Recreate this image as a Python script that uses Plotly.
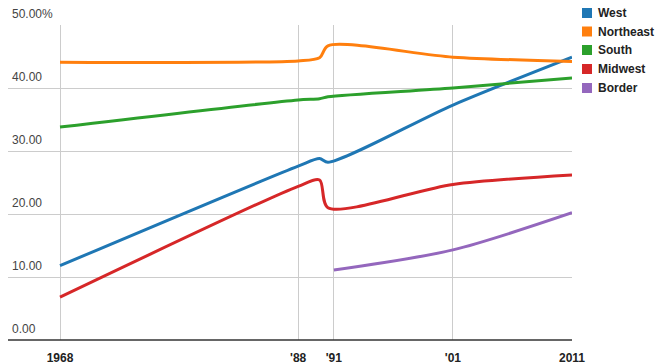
import plotly.graph_objects as go

# ---- data ----
years_main = [1968, 1988, 1989.8, 1990.5, 2001, 2011]
west = [11.8, 27.6, 28.8, 28.2, 37.3, 44.9]
northeast = [44.1, 44.3, 44.8, 46.7, 44.9, 44.2]
south = [33.8, 38.1, 38.3, 38.6, 40.0, 41.6]
midwest = [6.8, 24.4, 25.4, 21.0, 24.7, 26.2]
years_border = [1991, 2001, 2011]
border = [11.1, 14.3, 20.2]

series_names = ["West", "Northeast", "South", "Midwest", "Border"]
colors = ["#1f77b4", "#ff7f0e", "#2ca02c", "#d62728", "#9467bd"]

x_tick_vals = [1968, 1988, 1991, 2001, 2011]
x_tick_text = ["1968", "'88", "'91", "'01", "2011"]
y_tick_vals = [0, 10, 20, 30, 40, 50]
y_tick_text = ["0.00", "10.00", "20.00", "30.00", "40.00", "50.00%"]

W, H = 666, 364
L, R, T, B = 8, 572, 25, 340  # plot area pixel bounds

fig = go.Figure()
data = [(years_main, west), (years_main, northeast), (years_main, south),
        (years_main, midwest), (years_border, border)]
for (xs, ys), name, c in zip(data, series_names, colors):
    fig.add_trace(go.Scatter(x=xs, y=ys, name=name, mode="lines",
                             line=dict(color=c, width=3, shape="spline", smoothing=0.8),
                             showlegend=False, hoverinfo="x+y+name"))

px_per_year = (R - 60) / (2011 - 1968)
x_start = 1968 - (60 - L) / px_per_year

def pxx(p):
    return (p - L) / (R - L)

def pxy(p):
    return (B - p) / (B - T)

annotations = []
for v, t in zip(y_tick_vals, y_tick_text):
    annotations.append(dict(x=pxx(10), xref="paper", y=v, yref="y", text=t,
                            showarrow=False, xanchor="left", yanchor="bottom", yshift=2,
                            font=dict(family="Liberation Sans, Arial", size=12, color="#444")))

shapes = []
leg_y = [13, 31.5, 50, 69, 88]
for yy, name, c in zip(leg_y, series_names, colors):
    shapes.append(dict(type="rect", xref="paper", yref="paper",
                       x0=pxx(582), x1=pxx(592), y0=pxy(yy + 5), y1=pxy(yy - 5),
                       fillcolor=c, line=dict(width=0)))
    annotations.append(dict(x=pxx(596), xref="paper", y=pxy(yy), yref="paper", text=name,
                            showarrow=False, xanchor="left", yanchor="middle",
                            font=dict(family="Liberation Sans, Arial", size=12, color="#222",
                                      weight="bold")))

fig.update_layout(
    width=W, height=H,
    margin=dict(l=L, r=W - R, t=T, b=H - B, autoexpand=False),
    paper_bgcolor="white", plot_bgcolor="white",
    xaxis=dict(range=[x_start, 2011], tickvals=x_tick_vals, ticktext=x_tick_text,
               showgrid=True, gridcolor="#cccccc", gridwidth=1, zeroline=False,
               showline=False, ticks="", ticklabelstandoff=9, automargin=False,
               tickfont=dict(family="Liberation Sans, Arial", size=12, color="#222",
                             weight="bold")),
    yaxis=dict(range=[0, 50], tickvals=y_tick_vals, showticklabels=False,
               showgrid=True, gridcolor="#cccccc", gridwidth=1, zeroline=False,
               showline=False, automargin=False),
    shapes=shapes + [dict(type="line", xref="paper", yref="paper", x0=0, x1=1, y0=0, y1=0,
                          line=dict(color="#333", width=1.5))],
    annotations=annotations,
    showlegend=False,
)

fig.write_html("out.html", config={"displayModeBar": False},
               post_script="document.body.style.margin='0px';document.body.style.overflow='hidden';")
